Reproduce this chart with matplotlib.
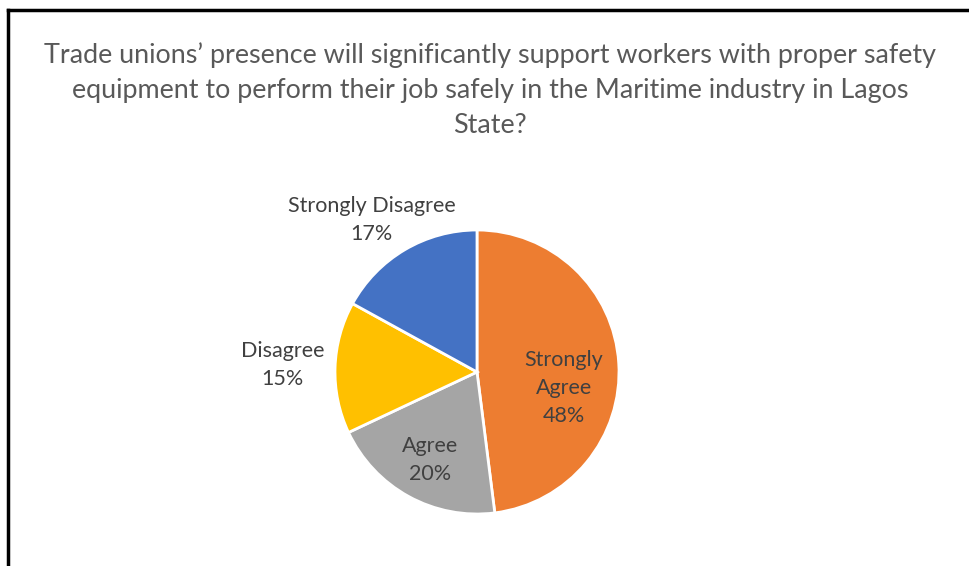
import matplotlib
matplotlib.use("Agg")
import matplotlib.pyplot as plt

plt.rcParams['font.family'] = ['Lato', 'DejaVu Sans']

title = ("Trade unions\u2019 presence will significantly support workers with proper safety\n"
         "equipment to perform their job safely in the Maritime industry in Lagos\n"
         "State?")

categories = ["Strongly Agree", "Agree", "Disagree", "Strongly Disagree"]
shares = [48, 20, 15, 17]
colors = ["#ED7D31", "#A5A5A5", "#FFC000", "#4472C4"]
label_text = ["Strongly\nAgree", "Agree", "Disagree", "Strongly Disagree"]
# label centres in units of the pie radius (Excel "best fit" placement)
label_pos = [(0.61, -0.11), (-0.33, -0.62), (-1.37, 0.05), (-0.74, 1.07)]

W, H = 969, 566
fig = plt.figure(figsize=(W / 100, H / 100), dpi=100)

# pie centre (477, 372) px from top-left, radius 142 px
cx, cy, r = 477, 372, 142
ax = fig.add_axes([(cx - r) / W, (H - cy - r) / H, 2 * r / W, 2 * r / H])
ax.pie(shares, colors=colors, startangle=90, counterclock=False,
       wedgeprops=dict(edgecolor="white", linewidth=2))
ax.set_xlim(-1, 1)
ax.set_ylim(-1, 1)
ax.set_aspect("equal")
ax.axis("off")

for txt, val, (x, y), cat in zip(label_text, shares, label_pos, categories):
    ax.text(x, y, "%s\n%d%%" % (txt, val), ha="center", va="center",
            fontsize=15.5, color="#404040", linespacing=1.5, clip_on=False)

fig.text(490 / W, 1 - 90 / H, title, ha="center", va="center",
         fontsize=19.4, color="#595959", linespacing=1.5)

# frame lines on the left and top edges
fig.add_artist(plt.Line2D([8 / W, 8 / W], [0, 1 - 10 / H], color="black", lw=2.5,
                          transform=fig.transFigure))
fig.add_artist(plt.Line2D([8 / W, 1], [1 - 10 / H, 1 - 10 / H], color="black", lw=2.5,
                          transform=fig.transFigure))

fig.savefig("out.png", dpi=100, facecolor="white")
